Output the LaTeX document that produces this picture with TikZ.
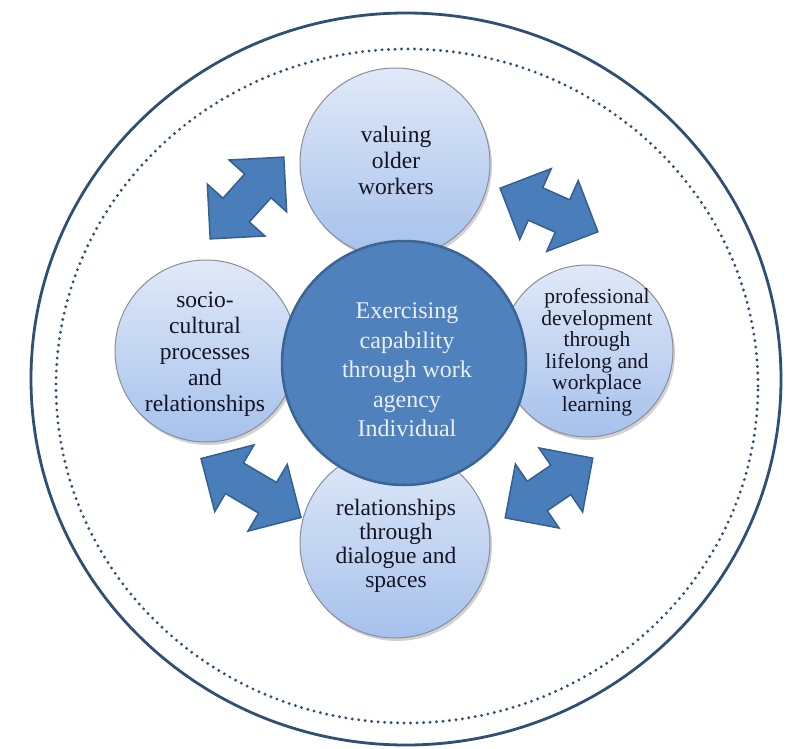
\documentclass[tikz,border=0pt]{standalone}
\usepackage{fontspec}
\setmainfont{Liberation Serif}
\usetikzlibrary{shapes.geometric,shapes.arrows,shadows}
\definecolor{arrowfill}{HTML}{4A7EBB}
\definecolor{arrowline}{HTML}{335F91}
\definecolor{centerfill}{HTML}{4F81BD}
\definecolor{centerline}{HTML}{3A6594}
\definecolor{smalltop}{HTML}{E0E9F8}
\definecolor{smallbot}{HTML}{A6C1EC}
\definecolor{smallline}{HTML}{8A8E98}
\definecolor{ringcol}{HTML}{2F4F75}
\definecolor{txtcol}{HTML}{141422}
\definecolor{ctxtcol}{HTML}{EAF0FA}
\tikzset{
  ring/.style={draw=ringcol, line width=2.8pt},
  dotring/.style={draw=ringcol, line width=3.2pt, line cap=round, dash pattern=on 0pt off 6.5pt},
  smallcirc/.style={ellipse, draw=smallline, line width=1pt, top color=smalltop, bottom color=smallbot,
     inner sep=0pt, drop shadow={opacity=0.35, shadow xshift=2pt, shadow yshift=-3pt}},
  bigcirc/.style={ellipse, draw=centerline, line width=2.5pt, fill=centerfill, inner sep=0pt},
  dblarrow/.style={double arrow, draw=arrowline, line width=1.5pt, fill=arrowfill, inner xsep=0pt, inner ysep=17pt,
     minimum width=76pt, double arrow head extend=21pt, double arrow tip angle=90},
  ltxt/.style={align=center, text=txtcol, font=\fontsize{23.5}{26}\selectfont, inner sep=0pt},
  rtxt/.style={align=center, text=txtcol, font=\fontsize{21.5}{21.5}\selectfont, inner sep=0pt},
  btxt/.style={align=center, text=txtcol, font=\fontsize{23.5}{24}\selectfont, inner sep=0pt},
  ctxt/.style={align=center, text=ctxtcol, font=\fontsize{24}{29.5}\selectfont, inner sep=0pt}
}
\begin{document}
\begin{tikzpicture}[x=1pt,y=1pt]
\useasboundingbox (0,0) rectangle (787,-749);
\fill[white] (0,0) rectangle (787,-749);
% rings
\draw[ring] (406,-379) ellipse [x radius=375, y radius=366];
\draw[dotring] (407,-386) ellipse [x radius=351, y radius=337];
% arrows
\node[dblarrow, minimum height=110pt, rotate=48] (a1) at (247,-198) {};
\node[dblarrow, minimum height=107pt, rotate=-24] (a2) at (549,-210) {};
\node[dblarrow, minimum height=116pt, rotate=-30.5] (a3) at (251,-488) {};
\node[dblarrow, minimum height=106pt, rotate=34.3] (a4) at (549,-488) {};
% small circles
\node[smallcirc, minimum width=190pt, minimum height=190pt] (top) at (395,-163) {};
\node[smallcirc, minimum width=182pt, minimum height=182pt] (left) at (206,-351) {};
\node[smallcirc, minimum width=172pt, minimum height=172pt] (right) at (587,-351) {};
\node[smallcirc, minimum width=190pt, minimum height=190pt] (bottom) at (395,-543) {};
% centre
\node[bigcirc, minimum width=244pt, minimum height=244pt] (centre) at (404,-363) {};
% texts
\node[ltxt] (ttop) at (396,-160) {valuing\\older\\workers};
\node[ltxt] (tleft) at (205,-354) {socio-\\cultural\\processes\\and\\relationships};
\node[rtxt] (tright) at (597,-352) {professional\\development\\through\\lifelong and\\workplace\\learning};
\node[btxt] (tbottom) at (396,-546) {relationships\\through\\dialogue and\\spaces};
\node[ctxt] (tcentre) at (407,-370) {Exercising\\capability\\through work\\agency\\Individual};
\end{tikzpicture}
\end{document}
